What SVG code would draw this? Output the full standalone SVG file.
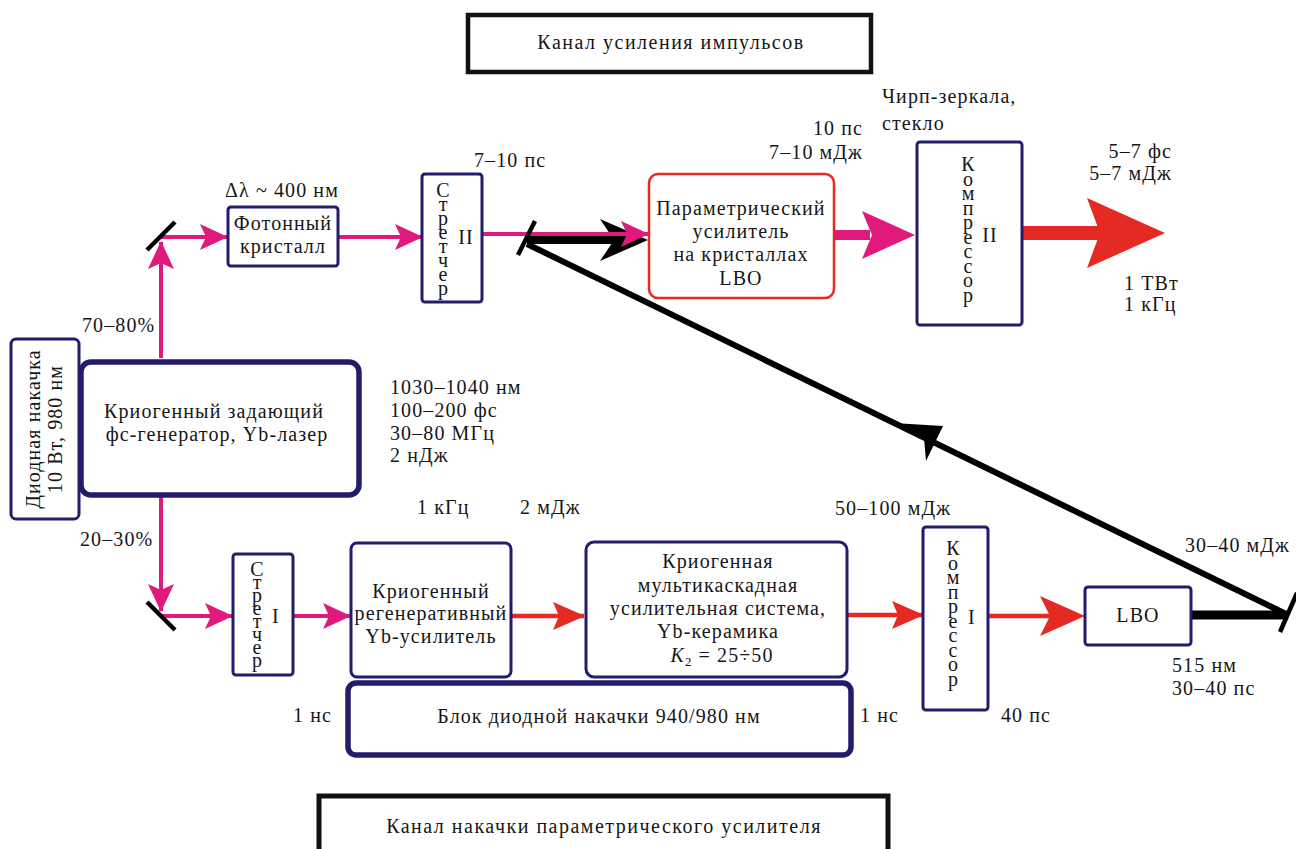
<svg xmlns="http://www.w3.org/2000/svg" width="1296" height="849" viewBox="0 0 1296 849">
<style>
text{font-family:"Liberation Serif",serif;font-size:20px;fill:#161616;letter-spacing:1.1px}
.m{text-anchor:middle}
.e{text-anchor:end}
.ttl{letter-spacing:1.5px}
.box{fill:#fff;stroke:#231c6c;stroke-width:3}
.thick{stroke-width:5.5}
.pk{stroke:#e0197d;stroke-width:4;fill:none}
.rd{stroke:#e42a22;stroke-width:4.5;fill:none}
.bk{stroke:#000;fill:none}
.mir{stroke:#000;stroke-width:4.5}
.vt{writing-mode:vertical-rl;text-orientation:upright;text-anchor:start}
.vs{letter-spacing:-8px}
.vs1{letter-spacing:-9px}
.vc{letter-spacing:-7.5px}
</style>
<defs>
<marker id="ph" viewBox="0 0 28 26" refX="27" refY="13" markerWidth="28" markerHeight="26" markerUnits="userSpaceOnUse" orient="auto"><path d="M0,0 L28,13 L0,26 L6,13 Z" fill="#e0197d"/></marker>
<marker id="rh" viewBox="0 0 32 28" refX="31" refY="14" markerWidth="32" markerHeight="28" markerUnits="userSpaceOnUse" orient="auto"><path d="M0,0 L32,14 L0,28 L6,14 Z" fill="#e42a22"/></marker>
</defs>
<rect width="1296" height="849" fill="#fff"/>

<g id="title-top"><rect x="468" y="15" width="403" height="57" fill="#fff" stroke="#111" stroke-width="4.5"/><text class="m ttl" x="671" y="49">Канал усиления импульсов</text></g>
<g id="title-bottom"><rect x="319" y="796" width="569" height="70" fill="#fff" stroke="#111" stroke-width="5"/><text class="m ttl" x="604" y="833">Канал накачки параметрического усилителя</text></g>

<g id="connectors">
<line class="pk" x1="161" y1="358" x2="161" y2="242" marker-end="url(#ph)"/>
<line class="pk" x1="161" y1="237" x2="227" y2="237" marker-end="url(#ph)"/>
<line class="pk" x1="338" y1="237" x2="422" y2="237" marker-end="url(#ph)"/>
<line class="pk" x1="161" y1="497" x2="161" y2="611" marker-end="url(#ph)"/>
<line class="pk" x1="161" y1="616" x2="232" y2="616" marker-end="url(#ph)"/>
<line class="pk" x1="293" y1="616" x2="350" y2="616" marker-end="url(#ph)"/>
<line class="rd" x1="511" y1="616" x2="584" y2="616" marker-end="url(#rh)"/>
<line class="rd" x1="847" y1="615" x2="923" y2="615" marker-end="url(#rh)"/>
<line class="rd" x1="988" y1="616" x2="1050" y2="616" stroke-width="8"/>
<path d="M1040,596 L1085,616 L1040,636 L1050,616 Z" fill="#e42a22"/>
<line class="bk" x1="1191" y1="615" x2="1287" y2="615" stroke-width="9"/>
<line class="bk" x1="1284" y1="613" x2="527" y2="244" stroke-width="6"/>
<path d="M893,423 L943,426 L926,461 L924,438 Z" fill="#000"/>
<line class="bk" x1="527" y1="240" x2="615" y2="240" stroke-width="8"/>
<path d="M648,240 L600,219 L614,240 L600,261 Z" fill="#000"/>
<line class="pk" x1="482" y1="234" x2="648" y2="234" marker-end="url(#ph)"/>
<line x1="834" y1="235" x2="870" y2="235" stroke="#e0197d" stroke-width="10"/>
<path d="M862,211 L915,235 L862,259 L872,235 Z" fill="#e0197d"/>
<line x1="1022" y1="233" x2="1100" y2="233" stroke="#e42a22" stroke-width="14"/>
<path d="M1087,198 L1165,233 L1087,268 L1100,233 Z" fill="#e42a22"/>
<line class="mir" x1="147" y1="250" x2="175" y2="222"/>
<line class="mir" x1="147" y1="602" x2="175" y2="630"/>
<line class="mir" x1="518" y1="255" x2="535" y2="221"/>
<line class="mir" x1="1280" y1="632" x2="1297" y2="593"/>
</g>

<g id="diode-pump"><rect class="box" x="11" y="339" width="68" height="180" rx="5" stroke-width="4"/>
<text class="m" transform="translate(40,429) rotate(-90)">Диодная накачка</text>
<text class="m" transform="translate(62,429) rotate(-90)">10 Вт, 980 нм</text></g>

<g id="master"><rect class="box thick" x="81" y="362" width="278" height="133" rx="10"/>
<text class="m" x="214" y="418">Криогенный задающий</text><text class="m" x="217" y="441">фс-генератор, Yb-лазер</text></g>

<g id="photonic"><rect class="box" x="228" y="207" width="110" height="59" rx="3"/>
<text class="m" x="283" y="230">Фотонный</text><text class="m" x="283" y="253">кристалл</text></g>

<g id="stretcher2"><rect class="box" x="422" y="174" width="60" height="128" rx="3" stroke-width="2.5"/>
<text class="vt vs" x="443" y="179">Стретчер</text>
<text class="m" x="466" y="244">II</text></g>

<g id="opa"><rect x="649" y="174" width="185" height="124" rx="9" fill="#fff" stroke="#e42a22" stroke-width="2.5"/>
<text class="m" x="741" y="215">Параметрический</text><text class="m" x="741" y="238">усилитель</text><text class="m" x="741" y="261">на кристаллах</text><text class="m" x="741" y="285">LBO</text></g>

<g id="compressor2"><rect class="box" x="917" y="142" width="105" height="183" rx="3"/>
<text class="vt vc" x="968" y="153">Компрессор</text>
<text class="m" x="990" y="242">II</text></g>

<g id="stretcher1"><rect class="box" x="233" y="554" width="60" height="121" rx="3" stroke-width="2.5"/>
<text class="vt vs1" x="257" y="558">Стретчер</text>
<text class="m" x="276" y="623">I</text></g>

<g id="regen"><rect class="box" x="351" y="543" width="160" height="134" rx="6"/>
<text class="m" x="431" y="598">Криогенный</text><text class="m" x="431" y="620">регенеративный</text><text class="m" x="431" y="643">Yb-усилитель</text></g>

<g id="multistage"><rect class="box" x="586" y="542" width="261" height="135" rx="8"/>
<text class="m" x="718" y="568">Криогенная</text><text class="m" x="718" y="592">мультикаскадная</text><text class="m" x="718" y="615">усилительная система,</text><text class="m" x="718" y="638">Yb-керамика</text>
<text class="m" x="722" y="662"><tspan font-style="italic">K</tspan><tspan font-size="13" dy="4">2</tspan><tspan dy="-4"> = 25÷50</tspan></text></g>

<g id="pump-block"><rect class="box thick" x="348" y="683" width="503" height="72" rx="8"/>
<text class="m" x="599" y="723">Блок диодной накачки 940/980 нм</text></g>

<g id="compressor1"><rect class="box" x="923" y="527" width="65" height="183" rx="3"/>
<text class="vt vc" x="953" y="537">Компрессор</text>
<text class="m" x="972" y="624">I</text></g>

<g id="lbo"><rect class="box" x="1085" y="587" width="106" height="58" rx="3" stroke-width="2.5"/>
<text class="m" x="1138" y="622">LBO</text></g>

<g id="labels">
<text class="m" x="282" y="197">Δλ ~ 400 нм</text>
<text x="474" y="167">7–10 пс</text>
<text class="e" x="863" y="135">10 пс</text>
<text class="e" x="863" y="159">7–10 мДж</text>
<text x="882" y="103">Чирп-зеркала,</text>
<text x="882" y="130">стекло</text>
<text class="e" x="1172" y="158">5–7 фс</text>
<text class="e" x="1172" y="180">5–7 мДж</text>
<text x="1124" y="290">1 ТВт</text>
<text x="1124" y="311">1 кГц</text>
<text x="82" y="332">70–80%</text>
<text x="390" y="394">1030–1040 нм</text>
<text x="390" y="417">100–200 фс</text>
<text x="390" y="440">30–80 МГц</text>
<text x="390" y="462">2 нДж</text>
<text x="80" y="546">20–30%</text>
<text x="417" y="514">1 кГц</text>
<text x="520" y="514">2 мДж</text>
<text x="835" y="515">50–100 мДж</text>
<text x="1185" y="552">30–40 мДж</text>
<text x="1172" y="672">515 нм</text>
<text x="1172" y="695">30–40 пс</text>
<text x="293" y="722">1 нс</text>
<text x="860" y="722">1 нс</text>
<text x="1001" y="722">40 пс</text>
</g>
</svg>
